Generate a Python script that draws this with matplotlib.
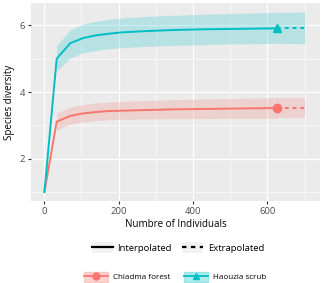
import numpy as np
import matplotlib
matplotlib.use("Agg")
import matplotlib.pyplot as plt
from matplotlib.lines import Line2D
from matplotlib.patches import Patch

plt.rcParams['font.family'] = ['Open Sans', 'DejaVu Sans']

# rarefaction (interpolated) part
n_int = [1, 34, 70, 105, 140, 175, 210, 280, 350, 420, 490, 560, 625]
chiadma = [1, 3.11, 3.28, 3.36, 3.40, 3.43, 3.44, 3.46, 3.48, 3.49, 3.50, 3.51, 3.52]
chiadma_hi = [np.nan, 3.37, 3.55, 3.63, 3.67, 3.70, 3.72, 3.75, 3.77, 3.79, 3.80, 3.82, 3.83]
chiadma_lo = [np.nan, 2.86, 3.03, 3.10, 3.14, 3.17, 3.18, 3.19, 3.20, 3.20, 3.21, 3.21, 3.21]
haouzia = [1, 5.00, 5.46, 5.62, 5.70, 5.75, 5.79, 5.83, 5.86, 5.88, 5.89, 5.90, 5.91]
haouzia_hi = [np.nan, 5.40, 5.86, 6.04, 6.12, 6.18, 6.22, 6.27, 6.30, 6.33, 6.35, 6.37, 6.39]
haouzia_lo = [np.nan, 4.62, 5.02, 5.18, 5.25, 5.30, 5.33, 5.37, 5.40, 5.42, 5.44, 5.45, 5.46]

# extrapolated part
n_ext = [625, 700]
chiadma_ext = [3.52, 3.52]
chiadma_ext_hi = [3.83, 3.83]
chiadma_ext_lo = [3.21, 3.21]
haouzia_ext = [5.91, 5.91]
haouzia_ext_hi = [6.39, 6.40]
haouzia_ext_lo = [5.46, 5.45]

# observed sample
n_obs = 625
chiadma_obs = 3.52
haouzia_obs = 5.91

red = '#F8766D'
cyan = '#00BFC4'

fig = plt.figure(figsize=(3.22, 2.83), dpi=100)
ax = fig.add_axes([31/322, 82/283, 289/322, 198/283])
ax.set_facecolor('#EBEBEB')
for s in ax.spines.values():
    s.set_visible(False)

#ribbons
ax.fill_between(n_int, chiadma_lo, chiadma_hi, color=red, alpha=0.22, lw=0)
ax.fill_between(n_ext, chiadma_ext_lo, chiadma_ext_hi, color=red, alpha=0.22, lw=0)
ax.fill_between(n_int, haouzia_lo, haouzia_hi, color=cyan, alpha=0.22, lw=0)
ax.fill_between(n_ext, haouzia_ext_lo, haouzia_ext_hi, color=cyan, alpha=0.22, lw=0)

#lines
ax.plot(n_int, chiadma, color=red, lw=1.4)
ax.plot(n_ext, chiadma_ext, color=red, lw=1.4, ls=(0, (2, 2)))
ax.plot(n_int, haouzia, color=cyan, lw=1.4)
ax.plot(n_ext, haouzia_ext, color=cyan, lw=1.4, ls=(0, (2, 2)))
ax.plot(n_obs, chiadma_obs, 'o', color=red, ms=6)
ax.plot(n_obs, haouzia_obs, '^', color=cyan, ms=6)

ax.set_xlim(-35, 741)
ax.set_ylim(0.73, 6.67)
ax.set_xticks([0, 200, 400, 600])
ax.set_yticks([2, 4, 6])
ax.set_xticks([100, 300, 500, 700], minor=True)
ax.set_yticks([1, 3, 5], minor=True)
ax.grid(which='major', color='white', lw=0.9)
ax.grid(which='minor', color='white', lw=0.45)
ax.set_axisbelow(True)
ax.tick_params(which='major', length=2.5, color='#333333', labelsize=6.8,
               labelcolor='#4D4D4D', pad=2)
ax.tick_params(which='minor', length=0)
ax.set_xlabel('Numbre of Individuals', fontsize=7, labelpad=2)
ax.set_ylabel('Species diversity', fontsize=7, labelpad=3)

#legends
bg = Patch(facecolor='#F2F2F2', edgecolor='none')
h1 = [(bg, Line2D([], [], color='black', lw=1.6)),
      (bg, Line2D([], [], color='black', lw=1.6, ls=(0, (2, 2))))]
fig.legend(h1, ['Interpolated', 'Extrapolated'], ncol=2, frameon=False,
           loc='center', bbox_to_anchor=(0.553, 0.124), fontsize=6.8,
           handlelength=2.2, handleheight=1.4, handletextpad=0.5,
           columnspacing=1.1)

h2 = [(Patch(facecolor=red, alpha=0.3, edgecolor=red),
       Line2D([], [], color=red, lw=1.3, marker='o', ms=5)),
      (Patch(facecolor=cyan, alpha=0.3, edgecolor=cyan),
       Line2D([], [], color=cyan, lw=1.3, marker='^', ms=5))]
fig.legend(h2, ['Chiadma forest', 'Haouzia scrub'], ncol=2, frameon=False,
           loc='center', bbox_to_anchor=(0.544, 0.022), fontsize=5.8,
           handlelength=2.9, handleheight=1.6, handletextpad=0.6,
           columnspacing=1.8)

fig.savefig('out.png', dpi=100)
